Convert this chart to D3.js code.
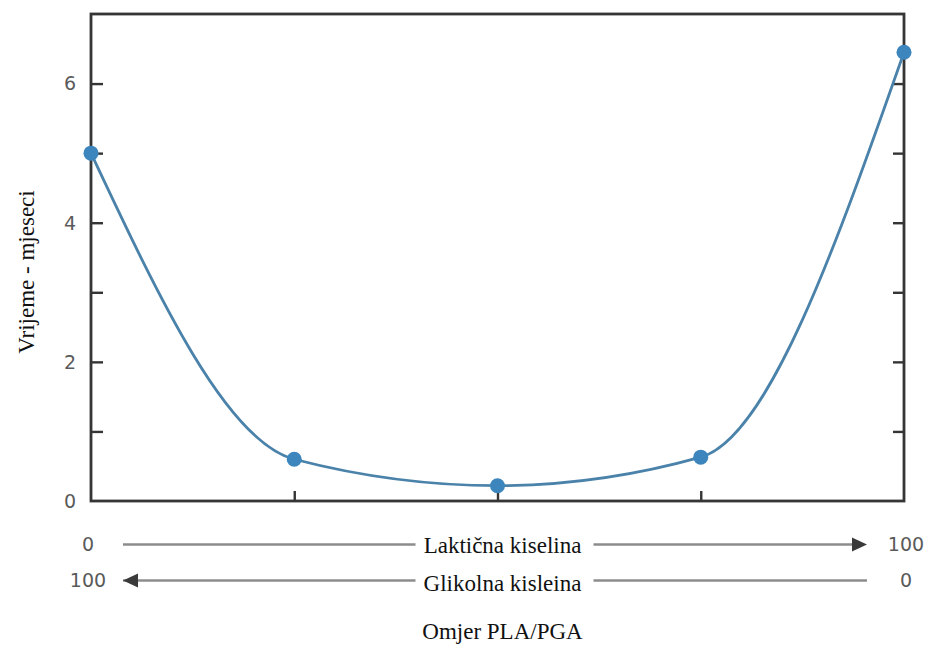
<!DOCTYPE html>
<html><head><meta charset="utf-8">
<script src="https://cdn.jsdelivr.net/npm/d3@7"></script>
<style>body{margin:0;background:#fff}</style>
</head><body>
<svg id="c" width="930" height="646"></svg>
<script>
const ratio = [0, 25, 50, 75, 100];          // % laktična kiselina
const months = [5.0, 0.6, 0.22, 0.63, 6.45]; // vrijeme - mjeseci
const yTicks = [0, 1, 2, 3, 4, 5, 6];
const yLabels = [0, 2, 4, 6];
const xTicks = [25, 50, 75];
const topLabels = ["0", "100"];
const botLabels = ["100", "0"];
const rowTitles = ["Laktična kiselina", "Glikolna kisleina"];
const xTitle = "Omjer PLA/PGA";
const yTitle = "Vrijeme - mjeseci";

const svg = d3.select("#c");
const L = 91, R = 904, T = 14, B = 501;
const x = d3.scaleLinear().domain([0, 100]).range([L, R]);
const y = d3.scaleLinear().domain([0, 7]).range([B, T]);
const axisCol = "#353535";
const numFont = "DejaVu Sans, sans-serif";
const serif = "Liberation Serif, Times New Roman, serif";

// frame
svg.append("rect").attr("x", L).attr("y", T).attr("width", R - L).attr("height", B - T)
  .attr("fill", "none").attr("stroke", axisCol).attr("stroke-width", 2.8);

// left ticks (inward)
svg.append("g").attr("transform", `translate(${L},0)`)
  .call(d3.axisRight(y).tickValues(yTicks.filter(d => d > 0)).tickSize(12).tickFormat(""))
  .call(g => g.select(".domain").remove())
  .call(g => g.selectAll("line").attr("stroke", axisCol).attr("stroke-width", 2.4));
// right ticks (inward)
svg.append("g").attr("transform", `translate(${R},0)`)
  .call(d3.axisLeft(y).tickValues(yTicks.filter(d => d > 0)).tickSize(11).tickFormat(""))
  .call(g => g.select(".domain").remove())
  .call(g => g.selectAll("line").attr("stroke", axisCol).attr("stroke-width", 2.4));
// bottom ticks (inward)
svg.append("g").attr("transform", `translate(0,${B})`)
  .call(d3.axisTop(x).tickValues(xTicks).tickSize(10).tickFormat(""))
  .call(g => g.select(".domain").remove())
  .call(g => g.selectAll("line").attr("stroke", axisCol).attr("stroke-width", 2.4));

// y labels
svg.append("g").selectAll("text").data(yLabels).join("text")
  .attr("x", 70).attr("y", d => y(d)).attr("dy", "0.36em").attr("text-anchor", "middle")
  .attr("font-family", numFont).attr("font-size", 19).attr("fill", "#5a5a5a")
  .text(d => d);

// y title
svg.append("text").attr("transform", `translate(34,272) rotate(-90)`)
  .attr("text-anchor", "middle").attr("font-family", serif)
  .attr("font-size", 23).attr("fill", "#111").text(yTitle);

// curve
const line = d3.line().x((d, i) => x(ratio[i])).y(d => y(d)).curve(d3.curveMonotoneX);
svg.append("path").attr("d", line(months)).attr("fill", "none")
  .attr("stroke", "#4a82aa").attr("stroke-width", 2.8);
svg.append("g").selectAll("circle").data(months).join("circle")
  .attr("cx", (d, i) => x(ratio[i])).attr("cy", d => y(d)).attr("r", 7.5)
  .attr("fill", "#3d86bd");

// bottom ratio rows
const rows = [{y: 544.5, base: 553, labels: topLabels, dir: 1}, {y: 580.5, base: 591, labels: botLabels, dir: -1}];
const cx = x(50) + 5;
rows.forEach((r, i) => {
  const g = svg.append("g");
  g.append("text").attr("x", x(0) - 3).attr("y", r.y).attr("dy", "0.36em").attr("text-anchor", "middle")
    .attr("font-family", numFont).attr("font-size", 19).attr("fill", "#5a5a5a").text(r.labels[0]);
  g.append("text").attr("x", x(100) + 2).attr("y", r.y).attr("dy", "0.36em").attr("text-anchor", "middle")
    .attr("font-family", numFont).attr("font-size", 19).attr("fill", "#5a5a5a").text(r.labels[1]);
  g.append("text").attr("x", cx).attr("y", r.base).attr("text-anchor", "middle")
    .attr("font-family", serif).attr("font-size", 23).attr("fill", "#111").text(rowTitles[i]);
  const lx1 = x(0) + 32, lx2 = cx - 87, rx1 = cx + 91, rx2 = x(100) - 37;
  g.append("line").attr("x1", lx1).attr("x2", lx2).attr("y1", r.y).attr("y2", r.y)
    .attr("stroke", "#8c8c8c").attr("stroke-width", 2.6);
  g.append("line").attr("x1", rx1).attr("x2", rx2 - (r.dir === 1 ? 8 : 0)).attr("y1", r.y).attr("y2", r.y)
    .attr("stroke", "#8c8c8c").attr("stroke-width", 2.6);
  if (r.dir === 1) {
    g.append("path").attr("d", `M${rx2 - 15},${r.y - 7}L${rx2},${r.y}L${rx2 - 15},${r.y + 7}Z`).attr("fill", "#3a3a3a");
  } else {
    g.append("path").attr("d", `M${lx1 + 15},${r.y - 7}L${lx1},${r.y}L${lx1 + 15},${r.y + 7}Z`).attr("fill", "#3a3a3a");
  }
});

svg.append("text").attr("x", cx).attr("y", 639).attr("text-anchor", "middle")
  .attr("font-family", serif).attr("font-size", 23).attr("fill", "#111").text(xTitle);
</script>
</body></html>
